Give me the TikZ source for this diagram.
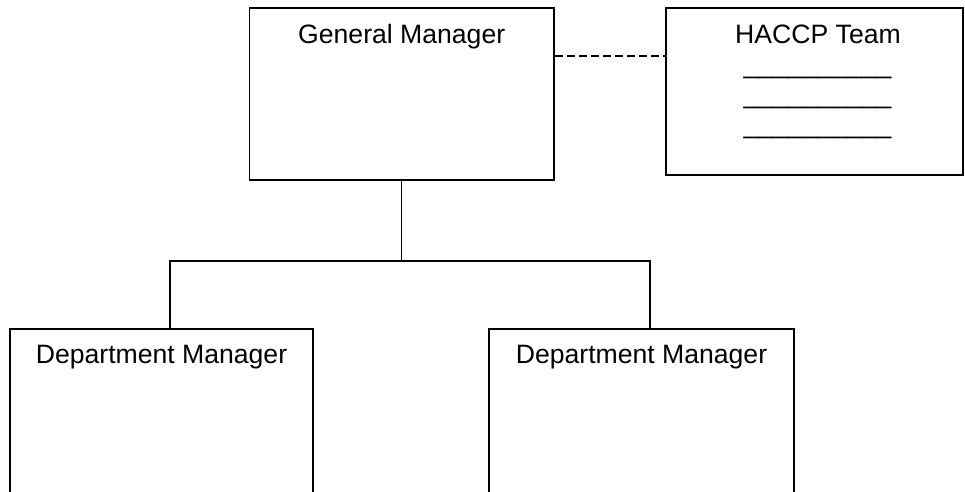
\documentclass[tikz,border=0pt]{standalone}
\usepackage{fontspec}
\setmainfont{Liberation Sans}
\begin{document}
\begin{tikzpicture}[x=1pt,y=-1pt,
  box/.style={draw, line width=1.4pt, rectangle, inner sep=0pt},
  lbl/.style={font=\fontsize{26.6}{30}\selectfont, inner sep=0pt, anchor=base},
  link/.style={line width=1.4pt}]
\useasboundingbox (0,0) rectangle (965,491);
\fill[white] (0,0) rectangle (965,491);
\clip (0,0) rectangle (965,491);
% boxes
\node[box, minimum width=304.5pt, minimum height=172pt] (gm) at (401.7,94) {};
\node[box, minimum width=297pt, minimum height=167pt] (hc) at (814.5,91.5) {};
\node[box, minimum width=303pt, minimum height=200pt] (dl) at (161.5,429) {};
\node[box, minimum width=305pt, minimum height=200pt] (dr) at (641.5,429) {};
% labels
\node[lbl] (gmt) at (401.7,43) {General Manager};
\node[lbl] (hct) at (818,43) {HACCP Team};
\node[lbl] (u1) at (817.5,73.5) {\_\_\_\_\_\_\_\_\_\_};
\node[lbl] (u2) at (817.5,103) {\_\_\_\_\_\_\_\_\_\_};
\node[lbl] (u3) at (817.5,133.5) {\_\_\_\_\_\_\_\_\_\_};
\node[lbl] (dlt) at (161.5,363) {Department Manager};
\node[lbl] (drt) at (641.5,363) {Department Manager};
% connectors
\coordinate (jl) at (170,261);
\coordinate (jr) at (650,261);
\draw[link] (gm.south) -- (gm.south |- jl);
\draw[link] (dl.north -| jl) -- (jl) -- (jr) -- (dr.north -| jr);
\draw[link, dash pattern=on 8pt off 4pt] (gm.east |- 0,56) -- (hc.west |- 0,56);
\end{tikzpicture}
\end{document}
